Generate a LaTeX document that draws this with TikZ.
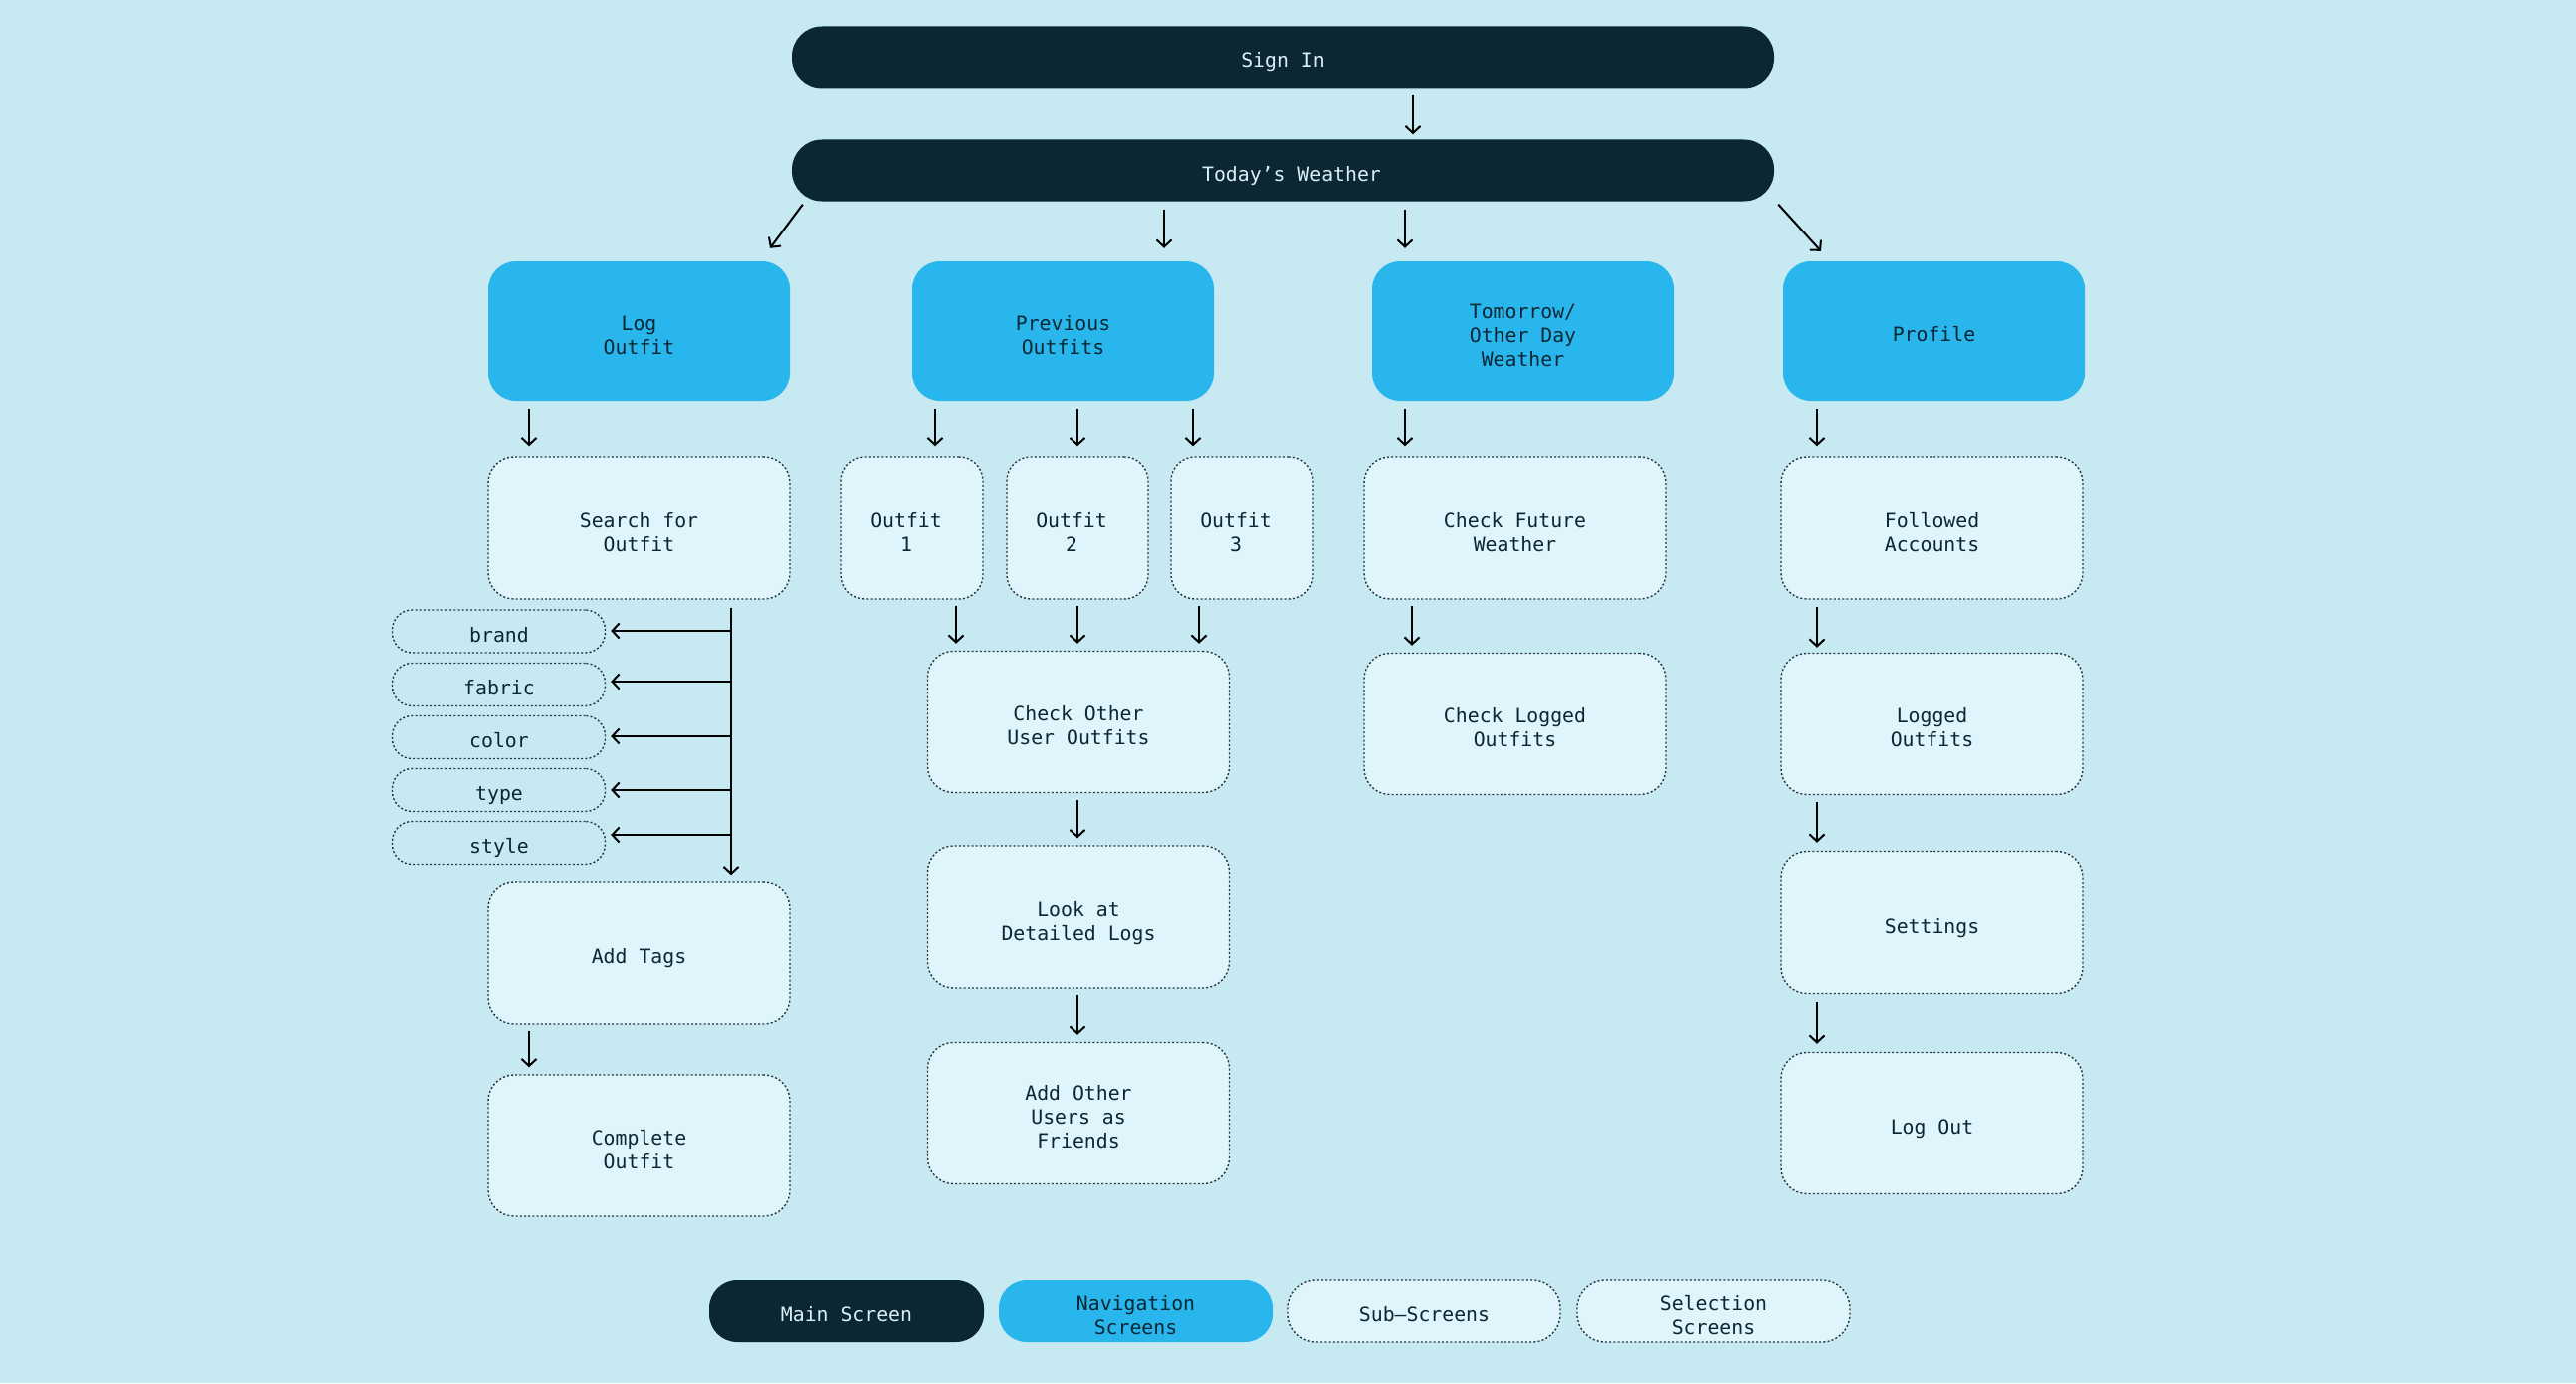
\documentclass[tikz,border=0pt]{standalone}
\usepackage{fontspec}
\setmonofont{DejaVu Sans Mono}
\usetikzlibrary{arrows.meta,calc}
\definecolor{bgc}{HTML}{C6E9F2}
\definecolor{darkc}{HTML}{0A2733}
\definecolor{navc}{HTML}{29B6ED}
\definecolor{subc}{HTML}{DFF5FB}
\definecolor{edgec}{HTML}{26363D}
\definecolor{lightt}{HTML}{DCEFF5}
\newcommand\lone[1]{\raisebox{0pt}[21pt][0pt]{#1}}
\newcommand\ltwo[1]{\raisebox{0pt}[46.5pt][0pt]{\begin{tabular}[b]{@{}c@{}}#1\end{tabular}}}
\newcommand\lthree[1]{\raisebox{0pt}[70.5pt][0pt]{\begin{tabular}[b]{@{}c@{}}#1\end{tabular}}}
\begin{document}
\begin{tikzpicture}[x=1pt,y=-1pt,
  every node/.style={font=\ttfamily\fontsize{19.8}{24}\selectfont, inner sep=0pt},
  mainbox/.style={fill=darkc, text=lightt, rounded corners=30pt, minimum width=984pt, minimum height=62pt},
  navbox/.style={fill=navc, text=darkc, rounded corners=28pt, minimum width=303pt, minimum height=140pt},
  subbox/.style={fill=subc, text=darkc, draw=edgec, line width=1.4pt, dash pattern=on 2pt off 2.2pt, rounded corners=26pt, minimum width=303pt, minimum height=142pt},
  smallbox/.style={subbox, minimum width=142pt, rounded corners=24pt},
  tagbox/.style={draw=edgec, text=darkc, line width=1.4pt, dash pattern=on 2pt off 2.2pt, rounded corners=20pt, minimum width=213pt, minimum height=43pt},
  legmain/.style={fill=darkc, text=lightt, rounded corners=28pt, minimum width=275pt, minimum height=62pt},
  legnav/.style={fill=navc, text=darkc, rounded corners=28pt, minimum width=275pt, minimum height=62pt},
  legsub/.style={subbox, rounded corners=28pt, minimum width=273pt, minimum height=62pt},
  arr/.style={draw=black, line width=2pt, -{Straight Barb[length=7pt,width=15pt,line width=2pt]}}
]
\fill[bgc] (0,0) rectangle (2582,1386);
\useasboundingbox (0,0) rectangle (2582,1386);

% main screens
\node[mainbox] (signin) at (1286,57.5) {\lone{Sign In}};
\node[mainbox] (today) at (1286,170.5) {\hspace*{17pt}\lone{Today’s Weather}};

% navigation screens
\node[navbox] (log) at (640.5,332) {\ltwo{Log\\Outfit}};
\node[navbox] (prev) at (1065.5,332) {\ltwo{Previous\\Outfits}};
\node[navbox] (tom) at (1526.5,332) {\lthree{Tomorrow/\\Other Day\\Weather}};
\node[navbox] (prof) at (1938.5,332) {\lone{Profile}};

% sub screens
\node[subbox] (search) at (640.5,529) {\ltwo{Search for\\Outfit}};
\node[smallbox] (o1) at (914,529) {\ltwo{Outfit\\1}\hspace*{12pt}};
\node[smallbox] (o2) at (1080,529) {\ltwo{Outfit\\2}\hspace*{12pt}};
\node[smallbox] (o3) at (1245,529) {\ltwo{Outfit\\3}\hspace*{12pt}};
\node[subbox] (future) at (1518.5,529) {\ltwo{Check Future\\Weather}};
\node[subbox] (followed) at (1936.5,529) {\ltwo{Followed\\Accounts}};

\node[tagbox] (brand) at (500,632.5) {\lone{brand}};
\node[tagbox] (fabric) at (500,686) {\lone{fabric}};
\node[tagbox] (color) at (500,739) {\lone{color}};
\node[tagbox] (type) at (500,792) {\lone{type}};
\node[tagbox] (style) at (500,845) {\lone{style}};

\node[subbox] (addtags) at (640.5,955) {\lone{Add Tags}};
\node[subbox] (complete) at (640.5,1148) {\ltwo{Complete\\Outfit}};

\node[subbox] (checkother) at (1081,723.5) {\ltwo{Check Other\\User Outfits}};
\node[subbox] (look) at (1081,919) {\ltwo{Look at\\Detailed Logs}};
\node[subbox] (addother) at (1081,1115.5) {\lthree{Add Other\\Users as\\Friends}};

\node[subbox] (logged) at (1518.5,725.5) {\ltwo{Check Logged\\Outfits}};

\node[subbox] (loggedp) at (1936.5,725.5) {\ltwo{Logged\\Outfits}};
\node[subbox] (settings) at (1936.5,924.5) {\lone{Settings}};
\node[subbox] (logout) at (1936.5,1125.5) {\lone{Log Out}};

% legend
\node[legmain] (lmain) at (848.5,1314) {\lone{Main Screen}};
\node[legnav] (lnav) at (1138.5,1314) {\ltwo{Navigation\\Screens}};
\node[legsub] (lsub) at (1427.5,1314) {\lone{Sub–Screens}};
\node[legsub] (lsel) at (1717.5,1314) {\ltwo{Selection\\Screens}};

% connectors: top
\draw[arr] ($(signin.south)+(130,6)$) -- ($(today.north)+(130,-5)$);
\draw[arr] ($(today.south west)+(11,3)$) -- ($(log.north)+(131.5,-13)$);
\draw[arr] ($(today.south)+(-119,8)$) -- ($(prev.north)+(101.5,-13)$);
\draw[arr] ($(today.south)+(122,8)$) -- ($(tom.north)+(-118.5,-13)$);
\draw[arr] ($(today.south east)+(4,3)$) -- ($(prof.north)+(-113.5,-10)$);

% navigation to sub screens
\draw[arr] ($(log.south)+(-110.5,8)$) -- ($(search.north)+(-110.5,-10)$);
\draw[arr] ($(prev.south)+(-128.5,8)$) -- ($(o1.north)+(23,-10)$);
\draw[arr] ($(prev.south)+(14.5,8)$) -- ($(o2.north)+(0,-10)$);
\draw[arr] ($(prev.south)+(130.5,8)$) -- ($(o3.north)+(-49,-10)$);
\draw[arr] ($(tom.south)+(-118.5,8)$) -- ($(future.north)+(-110.5,-10)$);
\draw[arr] ($(prof.south)+(-117.5,8)$) -- ($(followed.north)+(-115.5,-10)$);

% log outfit column
\coordinate (tr) at ($(search.south)+(92.5,8)$);
\draw[arr] (tr) -- ($(addtags.north)+(92.5,-6)$);
\draw[arr] ($(tr |- brand.east)+(0,-0.5)$) -- ($(brand.east)+(5,-0.5)$);
\draw[arr] ($(tr |- fabric.east)+(0,-3)$) -- ($(fabric.east)+(5,-3)$);
\draw[arr] ($(tr |- color.east)+(0,-1)$) -- ($(color.east)+(5,-1)$);
\draw[arr] ($(tr |- type.east)+(0,0)$) -- ($(type.east)+(5,0)$);
\draw[arr] ($(tr |- style.east)+(0,-8)$) -- ($(style.east)+(5,-8)$);
\draw[arr] ($(addtags.south)+(-110.5,6)$) -- ($(complete.north)+(-110.5,-7)$);

% previous outfits column
\draw[arr] ($(o1.south)+(44,6.5)$) -- ($(checkother.north)+(-123,-7)$);
\draw[arr] ($(o2.south)+(0,6.5)$) -- ($(checkother.north)+(-1,-7)$);
\draw[arr] ($(o3.south)+(-43,6.5)$) -- ($(checkother.north)+(121,-7)$);
\draw[arr] ($(checkother.south)+(-1,7)$) -- ($(look.north)+(-1,-7)$);
\draw[arr] ($(look.south)+(-1,6)$) -- ($(addother.north)+(-1,-7)$);

% tomorrow column
\draw[arr] ($(future.south)+(-103.5,6.5)$) -- ($(logged.north)+(-103.5,-7)$);

% profile column
\draw[arr] ($(followed.south)+(-115.5,7.5)$) -- ($(loggedp.north)+(-115.5,-5)$);
\draw[arr] ($(loggedp.south)+(-115.5,7)$) -- ($(settings.north)+(-115.5,-8)$);
\draw[arr] ($(settings.south)+(-115.5,8)$) -- ($(logout.north)+(-115.5,-8)$);
\end{tikzpicture}
\end{document}
